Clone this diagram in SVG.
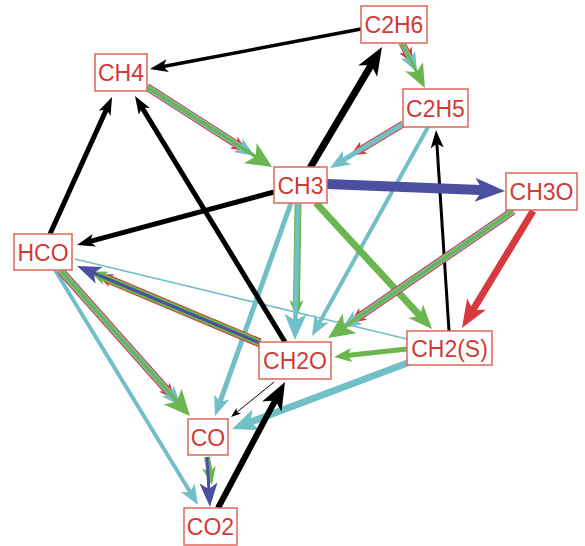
<svg xmlns="http://www.w3.org/2000/svg" width="585" height="546" viewBox="0 0 585 546">
<style>
.box{fill:#fff;stroke:#e0645a;stroke-width:1.5}
.lbl{font-family:"Liberation Sans",Arial,sans-serif;font-size:23px;fill:#d23a34;text-anchor:middle}
.e{fill:none;stroke-linecap:butt}
.k{stroke:#000}.c{stroke:#72c0c7}.g{stroke:#6cb650}.r{stroke:#d63a3e}.b{stroke:#4a4f9f}
</style>
<defs>
<marker id="k-s" markerUnits="userSpaceOnUse" viewBox="0 -3.5 10 7" markerWidth="10" markerHeight="7" refX="4" refY="0" orient="auto" overflow="visible"><path d="M0,-3.5L10,0L0,3.5L2.5,0Z" fill="#000"/></marker>
<marker id="k-m" markerUnits="userSpaceOnUse" viewBox="0 -6.5 18 13" markerWidth="18" markerHeight="13" refX="7.2" refY="0" orient="auto" overflow="visible"><path d="M0,-6.5L18,0L0,6.5L4.5,0Z" fill="#000"/></marker>
<marker id="k-l" markerUnits="userSpaceOnUse" viewBox="0 -11 28 22" markerWidth="28" markerHeight="22" refX="11.2" refY="0" orient="auto" overflow="visible"><path d="M0,-11L28,0L0,11L7,0Z" fill="#000"/></marker>
<marker id="c-m" markerUnits="userSpaceOnUse" viewBox="0 -8 20 16" markerWidth="20" markerHeight="16" refX="8" refY="0" orient="auto" overflow="visible"><path d="M0,-8L20,0L0,8L5,0Z" fill="#72c0c7"/></marker>
<marker id="c-l" markerUnits="userSpaceOnUse" viewBox="0 -11 26 22" markerWidth="26" markerHeight="22" refX="10.4" refY="0" orient="auto" overflow="visible"><path d="M0,-11L26,0L0,11L6.5,0Z" fill="#72c0c7"/></marker>
<marker id="g-m" markerUnits="userSpaceOnUse" viewBox="0 -7 18 14" markerWidth="18" markerHeight="14" refX="7.2" refY="0" orient="auto" overflow="visible"><path d="M0,-7L18,0L0,7L4.5,0Z" fill="#6cb650"/></marker>
<marker id="g-l" markerUnits="userSpaceOnUse" viewBox="0 -10 24 20" markerWidth="24" markerHeight="20" refX="9.6" refY="0" orient="auto" overflow="visible"><path d="M0,-10L24,0L0,10L6,0Z" fill="#6cb650"/></marker>
<marker id="g-x" markerUnits="userSpaceOnUse" viewBox="0 -12 26 24" markerWidth="26" markerHeight="24" refX="10.4" refY="0" orient="auto" overflow="visible"><path d="M0,-12L26,0L0,12L6.5,0Z" fill="#6cb650"/></marker>
<marker id="r-m" markerUnits="userSpaceOnUse" viewBox="0 -7 16 14" markerWidth="16" markerHeight="14" refX="6.4" refY="0" orient="auto" overflow="visible"><path d="M0,-7L16,0L0,7L4,0Z" fill="#d63a3e"/></marker>
<marker id="r-l" markerUnits="userSpaceOnUse" viewBox="0 -11 28 22" markerWidth="28" markerHeight="22" refX="11.2" refY="0" orient="auto" overflow="visible"><path d="M0,-11L28,0L0,11L7,0Z" fill="#d63a3e"/></marker>
<marker id="b-l" markerUnits="userSpaceOnUse" viewBox="0 -12 30 24" markerWidth="30" markerHeight="24" refX="12" refY="0" orient="auto" overflow="visible"><path d="M0,-12L30,0L0,12L7.5,0Z" fill="#4a4f9f"/></marker>
<marker id="b-m" markerUnits="userSpaceOnUse" viewBox="0 -9 24 18" markerWidth="24" markerHeight="18" refX="9.6" refY="0" orient="auto" overflow="visible"><path d="M0,-9L24,0L0,9L6,0Z" fill="#4a4f9f"/></marker>
</defs>
<g id="connectors">
<line class="e c" x1="407" y1="339" x2="75" y2="259" stroke-width="1.8"/>
<line class="e c" x1="428" y1="127" x2="317.8" y2="325.5" stroke-width="4" marker-end="url(#c-m)"/>
<line class="e c" x1="291" y1="203" x2="219" y2="404.7" stroke-width="5" marker-end="url(#c-m)"/>
<line class="e c" x1="55" y1="270" x2="191.8" y2="494.8" stroke-width="4" marker-end="url(#c-m)"/>
<line class="e c" x1="410" y1="362" x2="246.6" y2="423.5" stroke-width="7" marker-end="url(#c-l)"/>
<line class="e k" x1="285" y1="342" x2="140.6" y2="105.2" stroke-width="5" marker-end="url(#k-m)"/>
<line class="e k" x1="50" y1="234" x2="107.6" y2="106.8" stroke-width="5" marker-end="url(#k-m)"/>
<line class="e k" x1="274" y1="192" x2="87.4" y2="242.2" stroke-width="5" marker-end="url(#k-m)"/>
<line class="e k" x1="361" y1="29" x2="160.6" y2="67" stroke-width="3.5" marker-end="url(#k-m)"/>
<line class="e k" x1="449" y1="331" x2="436.7" y2="140.8" stroke-width="3" marker-end="url(#k-m)"/>
<line class="e k" x1="310" y1="168" x2="373.4" y2="61.4" stroke-width="7" marker-end="url(#k-l)"/>
<line class="e k" x1="218" y1="508" x2="277.1" y2="396.8" stroke-width="6" marker-end="url(#k-l)"/>
<line class="e k" x1="274" y1="382" x2="235.7" y2="413.2" stroke-width="1" marker-end="url(#k-s)"/>
<line class="e g" x1="316" y1="203" x2="422.3" y2="318.4" stroke-width="7" marker-end="url(#g-l)"/>
<line class="e g" x1="407" y1="349" x2="344.7" y2="355.8" stroke-width="5" marker-end="url(#g-m)"/>
<line class="e r" x1="533" y1="211" x2="470.7" y2="313.6" stroke-width="7" marker-end="url(#r-l)"/>
<line class="e g" x1="298" y1="204" x2="296.4" y2="307.2" stroke-width="7" marker-end="url(#g-m)"/>
<line class="e c" x1="298" y1="204" x2="295.3" y2="324.4" stroke-width="4.5" marker-end="url(#c-l)"/>
<line class="e r" x1="147" y1="87" x2="239.1" y2="146" stroke-width="8" marker-end="url(#r-m)"/>
<line class="e c" x1="147" y1="87" x2="244.7" y2="149.5" stroke-width="6" marker-end="url(#c-m)"/>
<line class="e g" x1="147" y1="87" x2="259" y2="158.7" stroke-width="3.5" marker-end="url(#g-x)"/>
<line class="e r" x1="402" y1="43" x2="408.4" y2="55.5" stroke-width="7" marker-end="url(#r-m)"/>
<line class="e c" x1="402" y1="43" x2="411.6" y2="61.7" stroke-width="5" marker-end="url(#c-m)"/>
<line class="e g" x1="402" y1="43" x2="418.4" y2="75.2" stroke-width="3" marker-end="url(#g-l)"/>
<line class="e r" x1="403" y1="124" x2="358.3" y2="150.9" stroke-width="7" marker-end="url(#r-m)"/>
<line class="e c" x1="403" y1="124" x2="340.3" y2="161.8" stroke-width="5" marker-end="url(#c-m)"/>
<line class="e r" x1="513" y1="211" x2="357.9" y2="317.5" stroke-width="8" marker-end="url(#r-m)"/>
<line class="e c" x1="513" y1="211" x2="351.5" y2="321.9" stroke-width="6" marker-end="url(#c-m)"/>
<line class="e g" x1="513" y1="211" x2="341" y2="329.2" stroke-width="3.5" marker-end="url(#g-x)"/>
<line class="e r" x1="260" y1="343" x2="105.8" y2="278.1" stroke-width="9" marker-end="url(#r-m)"/>
<line class="e g" x1="260" y1="343" x2="99.4" y2="275.4" stroke-width="7" marker-end="url(#g-m)"/>
<line class="e b" x1="260" y1="343" x2="90.3" y2="271.6" stroke-width="3" marker-end="url(#b-m)"/>
<line class="e r" x1="60" y1="270" x2="168.6" y2="392" stroke-width="8" marker-end="url(#r-m)"/>
<line class="e c" x1="60" y1="270" x2="173.1" y2="397" stroke-width="6" marker-end="url(#c-m)"/>
<line class="e g" x1="60" y1="270" x2="179.6" y2="404.4" stroke-width="3.5" marker-end="url(#g-x)"/>
<line class="e g" x1="207" y1="457" x2="210.1" y2="474.4" stroke-width="6" marker-end="url(#g-m)"/>
<line class="e b" x1="207" y1="457" x2="209.1" y2="492.6" stroke-width="3" marker-end="url(#b-m)"/>
<line class="e b" x1="327" y1="184" x2="487" y2="190.3" stroke-width="10" marker-end="url(#b-l)"/>
</g>
<g id="n-CH4"><rect class="box" x="95" y="54" width="52" height="37"/><text class="lbl" x="121" y="81">CH4</text></g>
<g id="n-C2H6"><rect class="box" x="361" y="6" width="66" height="37"/><text class="lbl" x="394" y="33">C2H6</text></g>
<g id="n-C2H5"><rect class="box" x="403" y="89" width="65" height="38"/><text class="lbl" x="435.5" y="116.5">C2H5</text></g>
<g id="n-CH3"><rect class="box" x="274" y="167" width="53" height="36"/><text class="lbl" x="300.5" y="193.5">CH3</text></g>
<g id="n-CH3O"><rect class="box" x="506" y="173" width="71" height="37"/><text class="lbl" x="541.5" y="200">CH3O</text></g>
<g id="n-HCO"><rect class="box" x="14" y="234" width="58" height="36"/><text class="lbl" x="43" y="260.5">HCO</text></g>
<g id="n-CH2O"><rect class="box" x="259" y="342" width="72" height="37"/><text class="lbl" x="295" y="369">CH2O</text></g>
<g id="n-CH2S"><rect class="box" x="407" y="331" width="85" height="34"/><text class="lbl" x="449.5" y="356.5">CH2(S)</text></g>
<g id="n-CO"><rect class="box" x="188" y="419" width="40" height="36"/><text class="lbl" x="208" y="445.5">CO</text></g>
<g id="n-CO2"><rect class="box" x="184" y="508" width="53" height="37"/><text class="lbl" x="210.5" y="535">CO2</text></g>
</svg>
